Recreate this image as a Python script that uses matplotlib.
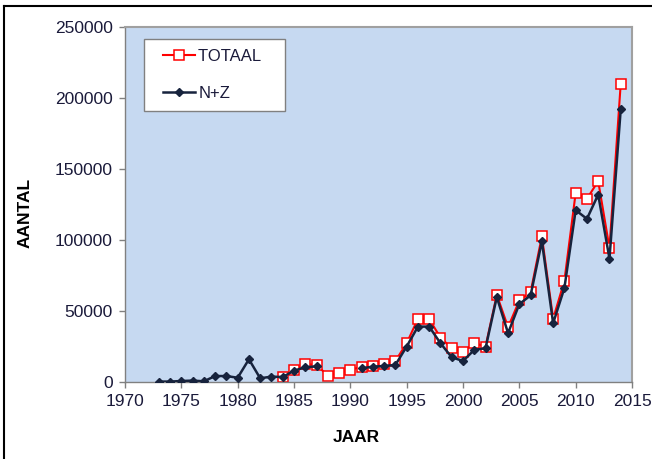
import numpy as np
import matplotlib
matplotlib.use("Agg")
import matplotlib.pyplot as plt
from matplotlib.lines import Line2D
from matplotlib.legend_handler import HandlerLine2D

plt.rcParams['font.family'] = ['Liberation Sans', 'DejaVu Sans']

nan = np.nan
years = list(range(1973, 2015))
# TOTAAL starts in 1984
totaal = [nan] * 11 + [3500, 8500, 12700, 12000, 4500, 6600, 8500, 10800, 11500,
                       12500, 14800, 27300, 44500, 44300, 31300, 23800, 21400,
                       27300, 25000, 61400, 38600, 57400, 63300, 102600, 44500,
                       71300, 133200, 129000, 141500, 94400, 210200]
# N+Z, no values for 1988-1990
nz = [300, 300, 700, 1000, 500, 4200, 4200, 3000, 16000, 2600, 3800, 3500,
      8000, 10400, 11000, nan, nan, nan, 9700, 10800, 11300, 12000, 25000,
      39000, 39000, 27300, 17400, 14800, 22600, 23800, 59800, 34400, 54900,
      61000, 99100, 41400, 66200, 121000, 114900, 132000, 86900, 192100]

x_ticks = list(range(1970, 2016, 5))
y_ticks = list(range(0, 250001, 50000))

txt_col = '#1A1A3A'

fig = plt.figure(figsize=(6.52, 4.59), dpi=100)
ax = fig.add_axes([125/652, 1-382/459, 507/652, 355/459])
ax.set_facecolor('#C6D9F1')

l1, = ax.plot(years, totaal, color='#FF0000', lw=1.5, marker='s', ms=7.5,
              mfc='white', mec='#FF0000', mew=1.1, label='TOTAAL   ', zorder=2)
l2, = ax.plot(years, nz, color='#17233D', lw=1.8, marker='D', ms=4.5,
              mfc='#17233D', mec='#17233D', label='N+Z', zorder=3)

ax.set_xlim(1970, 2015)
ax.set_ylim(0, 250000)
ax.set_xticks(x_ticks)
ax.set_yticks(y_ticks)
ax.tick_params(axis='both', direction='out', length=4, width=1,
               color='#808080', labelsize=12.5, labelcolor=txt_col, pad=5)

for side in ['top', 'right']:
    ax.spines[side].set_color('#A0A0A0')
    ax.spines[side].set_linewidth(1.5)
for side in ['left', 'bottom']:
    ax.spines[side].set_color('#808080')
    ax.spines[side].set_linewidth(1.0)

hmap = {l1: HandlerLine2D(xpad=0.55), l2: HandlerLine2D(xpad=0.55)}
leg = ax.legend(loc='upper left', bbox_to_anchor=(19/507, 343/355),
                borderaxespad=0, fontsize=12, frameon=True, fancybox=False,
                edgecolor='#808080', facecolor='white', framealpha=1,
                labelspacing=1.3, handlelength=2.45, handletextpad=0.2,
                borderpad=0.6, handler_map=hmap)
leg.get_frame().set_linewidth(1.0)
for t in leg.get_texts():
    t.set_color(txt_col)

fig.text(356/652, 1-437/459, 'JAAR', ha='center', va='center',
         fontsize=12.5, fontweight='bold', color='black')
fig.text(25/652, 1-213/459, 'AANTAL', ha='center', va='center',
         rotation=90, fontsize=12.5, fontweight='bold', color='black')

# outer frame (top and left edges visible in the picture)
fig.add_artist(Line2D([4/652, 4/652], [0, 1-6/459], color='black', lw=1.5,
                      transform=fig.transFigure))
fig.add_artist(Line2D([4/652, 1], [1-6/459, 1-6/459], color='black', lw=1.5,
                      transform=fig.transFigure))

fig.savefig('out.png', dpi=100, facecolor='white')
